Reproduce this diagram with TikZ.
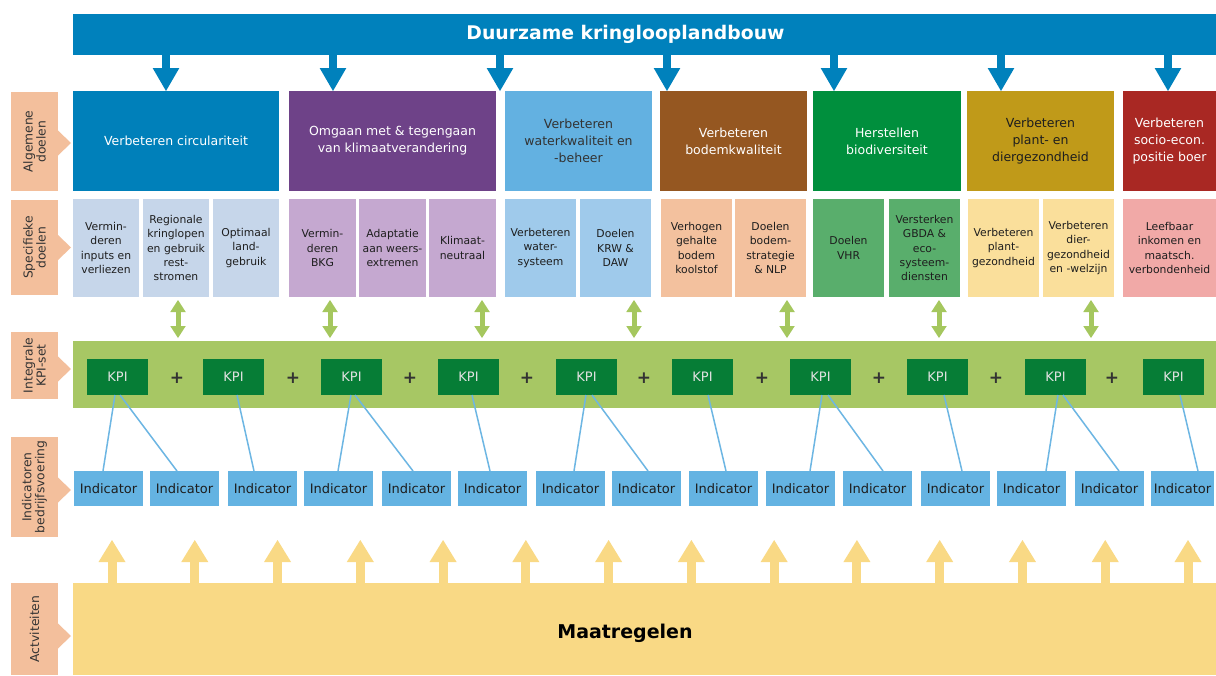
\documentclass[tikz,border=0pt]{standalone}
\usepackage{fontspec}
\setmainfont{DejaVu Sans}
\usetikzlibrary{arrows.meta}
\definecolor{bannerblue}{HTML}{0081BC}
\definecolor{gA}{HTML}{0080BA}
\definecolor{gB}{HTML}{6E4288}
\definecolor{gC}{HTML}{63B1E1}
\definecolor{gD}{HTML}{955721}
\definecolor{gE}{HTML}{008F3D}
\definecolor{gF}{HTML}{C09A19}
\definecolor{gG}{HTML}{A92823}
\definecolor{sA}{HTML}{C6D6EA}
\definecolor{sB}{HTML}{C5A8D0}
\definecolor{sC}{HTML}{9FCAEB}
\definecolor{sD}{HTML}{F3C19E}
\definecolor{sE}{HTML}{59AE6C}
\definecolor{sF}{HTML}{FADF9B}
\definecolor{sG}{HTML}{F1A9A7}
\definecolor{peach}{HTML}{F3BF9C}
\definecolor{band}{HTML}{A7C764}
\definecolor{kpigreen}{HTML}{067D36}
\definecolor{kpitxt}{HTML}{E2E2E2}
\definecolor{indblue}{HTML}{64B3E2}
\definecolor{connblue}{HTML}{6DB6E3}
\definecolor{gda}{HTML}{A5C75E}
\definecolor{yel}{HTML}{F9D985}
\definecolor{txtdark}{HTML}{1E1E1E}
\definecolor{labtxt}{HTML}{333333}
\definecolor{plusc}{HTML}{333333}
\begin{document}
\begin{tikzpicture}[x=1pt,y=-1pt,
  box/.style={inner sep=0pt, outer sep=0pt, align=center, draw=none},
  gen/.style={box, minimum height=100, font=\fontsize{12.5}{17}\selectfont, text=white},
  spec/.style={box, minimum height=98, font=\fontsize{10.8}{14.3}\selectfont, text=txtdark},
  lab/.style={box, fill=peach, rotate=90, minimum height=47, font=\fontsize{12.3}{13}\selectfont, text=labtxt},
  kpi/.style={box, fill=kpigreen, minimum width=61, minimum height=36, text=kpitxt, font=\fontsize{13}{15}\selectfont},
  ind/.style={box, fill=indblue, minimum width=69, minimum height=35, text=txtdark, font=\fontsize{13}{15}\selectfont},
  plus/.style={inner sep=0pt, text=plusc, font=\fontsize{17}{17}\selectfont\bfseries},
  conn/.style={draw=connblue, line width=1.5pt},
  bluearr/.style={draw=bannerblue, line width=8.7pt, -{Triangle[width=26.7pt,length=23pt,line width=0pt]}},
  greenarr/.style={draw=gda, line width=5pt, {Triangle[width=15.5pt,length=12pt,line width=0pt]}-{Triangle[width=15.5pt,length=12pt,line width=0pt]}},
  yelarr/.style={draw=yel, line width=9pt, -{Triangle[width=27pt,length=22pt,line width=0pt]}}
]
\useasboundingbox (0,0) rectangle (1216,675);
\fill[white] (0,0) rectangle (1216,675);

% banner
\node[box, fill=bannerblue, minimum width=1143, minimum height=41] (banner) at (644.5,34.5) {};
\node[inner sep=0pt, text=white, font=\fontsize{18.8}{20}\selectfont\bfseries] (title) at (625.5,34) {Duurzame kringlooplandbouw};

% left labels
\node[lab, minimum width=99] (l1) at (34.5,141.5) {Algemene\\doelen};
\node[lab, minimum width=95] (l2) at (34.5,247.5) {Specifieke\\doelen};
\node[lab, minimum width=67] (l3) at (34.5,365.5) {Integrale\\KPI-set};
\node[lab, minimum width=100] (l4) at (34.5,487) {Indicatoren\\bedrijfsvoering};
\node[lab, minimum width=92] (l5) at (34.5,629) {Actviteiten};
\foreach \n/\d in {l1/-1.5,l2/0,l3/-3.5,l4/-3,l5/-7}
  \fill[peach] ([yshift=\d pt+12.5pt]\n.south) -- ([yshift=\d pt, xshift=13pt]\n.south) -- ([yshift=\d pt-12.5pt]\n.south) -- cycle;

% general goals
\node[gen, fill=gA, minimum width=206] (g1) at (176,141) {Verbeteren circulariteit};
\node[gen, fill=gB, minimum width=207] (g2) at (392.5,141) {Omgaan met \& tegengaan\\van klimaatverandering};
\node[gen, fill=gC, minimum width=147, text=labtxt] (g3) at (578.5,141) {Verbeteren\\waterkwaliteit en\\-beheer};
\node[gen, fill=gD, minimum width=147] (g4) at (733.5,141) {Verbeteren\\bodemkwaliteit};
\node[gen, fill=gE, minimum width=148] (g5) at (887,141) {Herstellen\\biodiversiteit};
\node[gen, fill=gF, minimum width=147, text=txtdark] (g6) at (1040.5,141) {Verbeteren\\plant- en\\diergezondheid};
\node[gen, fill=gG, minimum width=93] (g7) at (1169.5,141) {Verbeteren\\socio-econ.\\positie boer};

% specific goals
\node[spec, fill=sA, minimum width=66] (s1) at (106,248) {Vermin-\\deren\\inputs en\\verliezen};
\node[spec, fill=sA, minimum width=66] (s2) at (176,248) {Regionale\\kringlopen\\en gebruik\\rest-\\stromen};
\node[spec, fill=sA, minimum width=66] (s3) at (246,248) {Optimaal\\land-\\gebruik};
\node[spec, fill=sB, minimum width=67] (s4) at (322.5,248) {Vermin-\\deren\\BKG};
\node[spec, fill=sB, minimum width=67] (s5) at (392.5,248) {Adaptatie\\aan weers-\\extremen};
\node[spec, fill=sB, minimum width=67] (s6) at (462.5,248) {Klimaat-\\neutraal};
\node[spec, fill=sC, minimum width=71] (s7) at (540.5,248) {Verbeteren\\water-\\systeem};
\node[spec, fill=sC, minimum width=71] (s8) at (615.5,248) {Doelen\\KRW \&\\DAW};
\node[spec, fill=sD, minimum width=71] (s9) at (696.5,248) {Verhogen\\gehalte\\bodem\\koolstof};
\node[spec, fill=sD, minimum width=71] (s10) at (770.5,248) {Doelen\\bodem-\\strategie\\\& NLP};
\node[spec, fill=sE, minimum width=71] (s11) at (848.5,248) {Doelen\\VHR};
\node[spec, fill=sE, minimum width=71] (s12) at (924.5,248) {Versterken\\GBDA \&\\eco-\\systeem-\\diensten};
\node[spec, fill=sF, minimum width=71] (s13) at (1003.5,248) {Verbeteren\\plant-\\gezondheid};
\node[spec, fill=sF, minimum width=71] (s14) at (1078.5,248) {Verbeteren\\dier-\\gezondheid\\en -welzijn};
\node[spec, fill=sG, minimum width=93] (s15) at (1169.5,248) {Leefbaar\\inkomen en\\maatsch.\\verbondenheid};

% blue arrows from banner
\foreach \x [count=\i] in {166,333,500,667,834,1001,1168} {
  \coordinate (bt\i) at (\x,91);
  \draw[bluearr] (bt\i |- banner.south) -- (bt\i);
}

% KPI band
\node[box, fill=band, minimum width=1143, minimum height=67] (band) at (644.5,374.5) {};
\foreach \x [count=\i] in {117.5,233.5,351.5,468.5,586.5,702.5,820.5,937.5,1055.5,1173.5}
  \node[kpi] (k\i) at (\x,377) {KPI};
\foreach \x [count=\i] in {177,293,410,527,644,762,879,996,1112}
  \node[plus] (p\i) at (\x,378) {+};

% green double arrows
\foreach \x [count=\i] in {178,330,482,634,787,939,1091} {
  \coordinate (gt\i) at (\x,300);
  \coordinate (gb\i) at (\x,338);
  \draw[greenarr] (gt\i) -- (gb\i);
}

% indicators
\foreach \x [count=\i] in {108.5,184.5,262.5,338.5,416.5,492.5,570.5,646.5,723.5,800.5,877.5,955.5,1031.5,1109.5}
  \node[ind] (i\i) at (\x,488.5) {Indicator};
\node[ind, minimum width=63] (i15) at (1182.5,488.5) {Indicator};

% connectors
\foreach \a/\ao/\b/\bo in {k1/-2.5/i1/-5.5, k1/2.5/i2/-7.5, k2/3.5/i3/-8.5, k3/-0.5/i4/-0.5, k3/3.5/i5/-3.5,
  k4/3.5/i6/-2.5, k5/-0.5/i7/3.5, k5/5.5/i8/1.5, k6/5.5/i9/2.5, k7/1.5/i10/9.5, k7/7.5/i11/5.5,
  k8/6.5/i12/6.5, k9/2.5/i13/14.5, k9/7.5/i14/9.5, k10/6.5/i15/15.5}
  \draw[conn] ([xshift=\ao pt]\a.south) -- ([xshift=\bo pt]\b.north);

% activities
\node[box, fill=yel, minimum width=1143, minimum height=92] (act) at (644.5,629) {};
\node[inner sep=0pt, text=black, font=\fontsize{19}{21}\selectfont\bfseries] (acttxt) at (625,633) {Maatregelen};
\foreach \i in {0,...,13} {
  \pgfmathsetmacro{\xx}{112+\i*82.77}
  \coordinate (yt\i) at (\xx,540);
  \draw[yelarr] (yt\i |- act.north) -- (yt\i);
}
\end{tikzpicture}
\end{document}
